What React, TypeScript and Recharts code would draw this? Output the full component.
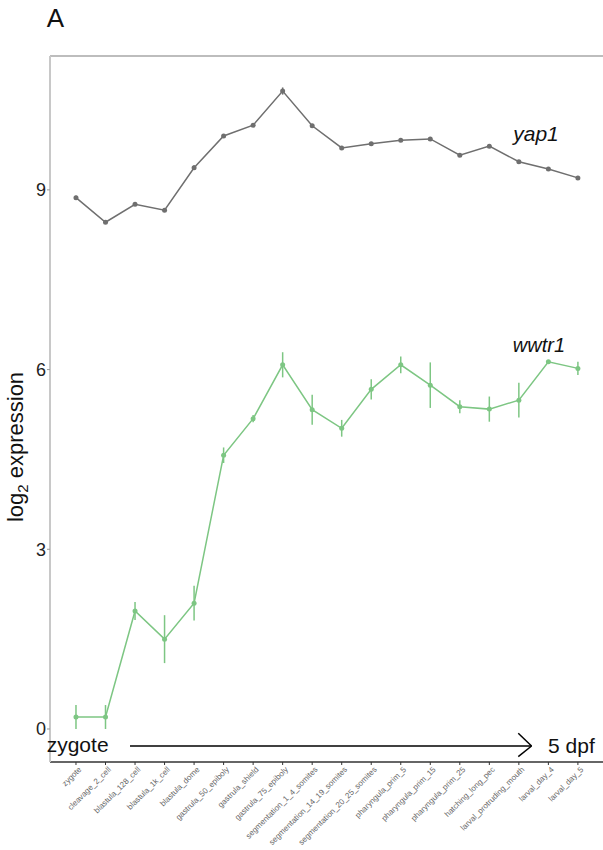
import React from 'react';
import {
  LineChart,
  Line,
  XAxis,
  YAxis,
  ErrorBar,
  ReferenceLine,
  ReferenceDot,
} from 'recharts';

// developmental stages, in order
const stages = [
  'zygote',
  'cleavage_2_cell',
  'blastula_128_cell',
  'blastula_1k_cell',
  'blastula_dome',
  'gastrula_50_epiboly',
  'gastrula_shield',
  'gastrula_75_epiboly',
  'segmentation_1_4_somites',
  'segmentation_14_19_somites',
  'segmentation_20_25_somites',
  'pharyngula_prim_5',
  'pharyngula_prim_15',
  'pharyngula_prim_25',
  'hatching_long_pec',
  'larval_protruding_mouth',
  'larval_day_4',
  'larval_day_5',
];

const yap1 = [8.87, 8.46, 8.76, 8.66, 9.37, 9.9, 10.08, 10.65, 10.07, 9.7, 9.77, 9.83, 9.85, 9.58, 9.73, 9.47, 9.35, 9.2];
const yap1Err = [0.03, 0.03, 0.03, 0.03, 0.04, 0.03, 0.03, 0.06, 0.03, 0.03, 0.03, 0.03, 0.03, 0.03, 0.03, 0.03, 0.03, 0.03];

const wwtr1 = [0.2, 0.2, 1.97, 1.5, 2.1, 4.57, 5.18, 6.08, 5.33, 5.02, 5.67, 6.08, 5.74, 5.38, 5.34, 5.49, 6.13, 6.02];
const wwtr1Err = [0.2, 0.2, 0.15, 0.4, 0.29, 0.13, 0.06, 0.21, 0.25, 0.14, 0.17, 0.14, 0.38, 0.11, 0.21, 0.29, 0.03, 0.11];

const yTicks = [0, 3, 6, 9];

const GRAY = '#6f6f6f';
const GREEN = '#7dc683';
const FONT = '"Liberation Sans", Arial, Helvetica, sans-serif';

const X_DOMAIN: [number, number] = [0.12, 18.85];
const Y_DOMAIN: [number, number] = [-0.551, 11.235];

const data = stages.map((s, i) => ({
  x: i + 1,
  stage: s,
  yap1: yap1[i],
  yap1Err: yap1Err[i],
  wwtr1: wwtr1[i],
  wwtr1Err: wwtr1Err[i],
}));

const StageTick = (props: any) => {
  const { x, y, payload } = props;
  const label = stages[payload.value - 1] ?? '';
  return (
    <g transform={`translate(${x + 4},${y})`}>
      <text
        x={0}
        y={0}
        dy="0.35em"
        textAnchor="end"
        transform="rotate(-45)"
        fontSize={8}
        fill="#666"
        fontFamily={FONT}
      >
        {label}
      </text>
    </g>
  );
};

const textShape =
  (value: string, opts: { size: number; italic?: boolean; anchor?: string }) =>
  (p: any) => (
    <text
      x={p.cx}
      y={p.cy}
      fontSize={opts.size}
      fontStyle={opts.italic ? 'italic' : 'normal'}
      textAnchor={opts.anchor ?? 'start'}
      fill="#111"
      fontFamily={FONT}
    >
      {value}
    </text>
  );

const YLabel = (props: any) => {
  const vb = props.viewBox;
  const cx = vb.x + 23;
  const cy = vb.y + vb.height / 2 + 38;
  return (
    <text
      x={cx}
      y={cy}
      transform={`rotate(-90, ${cx}, ${cy})`}
      textAnchor="middle"
      fontSize={22}
      fill="#111"
      fontFamily={FONT}
    >
      log
      <tspan fontSize={15} dy={5}>2</tspan>
      <tspan dy={-5}> expression</tspan>
    </text>
  );
};

export default function App() {
  return (
    <div style={{ position: 'fixed', left: 0, top: 0, width: 603, height: 850, background: '#fff' }}>
      <LineChart width={603} height={850} data={data} margin={{ top: 56, right: 0, bottom: 0, left: 0 }}>
        <XAxis
          dataKey="x"
          type="number"
          domain={X_DOMAIN}
          allowDataOverflow
          ticks={stages.map((_, i) => i + 1)}
          interval={0}
          height={88}
          tick={<StageTick />}
          tickSize={3}
          tickMargin={3}
          stroke="#333"
          axisLine={{ stroke: '#333', strokeWidth: 1.5 }}
          tickLine={{ stroke: '#333' }}
        />
        <YAxis
          type="number"
          domain={Y_DOMAIN}
          allowDataOverflow
          ticks={yTicks}
          width={50}
          tickSize={3}
          tickMargin={1}
          axisLine={{ stroke: '#c8c8c8', strokeWidth: 2 }}
          tickLine={{ stroke: '#999' }}
          tick={{ fontSize: 18, fill: '#222', fontFamily: FONT }}
          label={<YLabel />}
        />
        <ReferenceLine y={Y_DOMAIN[1]} stroke="#bdbdbd" strokeWidth={2} ifOverflow="visible" />

        <Line
          dataKey="yap1"
          stroke={GRAY}
          strokeWidth={1.5}
          dot={{ r: 2.5, fill: GRAY, stroke: GRAY, strokeWidth: 0 }}
          isAnimationActive={false}
        >
          <ErrorBar dataKey="yap1Err" width={0} stroke={GRAY} strokeWidth={1.5} direction="y" isAnimationActive={false} />
        </Line>
        <Line
          dataKey="wwtr1"
          stroke={GREEN}
          strokeWidth={1.5}
          dot={{ r: 2.5, fill: GREEN, stroke: GREEN, strokeWidth: 0 }}
          isAnimationActive={false}
        >
          <ErrorBar dataKey="wwtr1Err" width={0} stroke={GREEN} strokeWidth={1.5} direction="y" isAnimationActive={false} />
        </Line>

        {/* stage arrow */}
        <ReferenceLine
          segment={[{ x: 2.83, y: -0.284 }, { x: 16.43, y: -0.284 }]}
          stroke="#000"
          strokeWidth={1.5}
          ifOverflow="visible"
        />
        <ReferenceLine
          segment={[{ x: 15.98, y: -0.072 }, { x: 16.43, y: -0.284 }]}
          stroke="#000"
          strokeWidth={1.5}
          ifOverflow="visible"
        />
        <ReferenceLine
          segment={[{ x: 15.98, y: -0.462 }, { x: 16.43, y: -0.284 }]}
          stroke="#000"
          strokeWidth={1.5}
          ifOverflow="visible"
        />

        <ReferenceDot x={0.008} y={-0.384} r={1} ifOverflow="visible" shape={textShape('zygote', { size: 21 })} />
        <ReferenceDot x={16.99} y={-0.4} r={1} ifOverflow="visible" shape={textShape('5 dpf', { size: 21 })} />
        <ReferenceDot x={16.58} y={9.82} r={1} ifOverflow="visible" shape={textShape('yap1', { size: 21, italic: true, anchor: 'middle' })} />
        <ReferenceDot x={16.68} y={6.29} r={1} ifOverflow="visible" shape={textShape('wwtr1', { size: 20, italic: true, anchor: 'middle' })} />
        <ReferenceDot x={0.008} y={11.72} r={1} ifOverflow="visible" shape={textShape('A', { size: 26 })} />
      </LineChart>
    </div>
  );
}
